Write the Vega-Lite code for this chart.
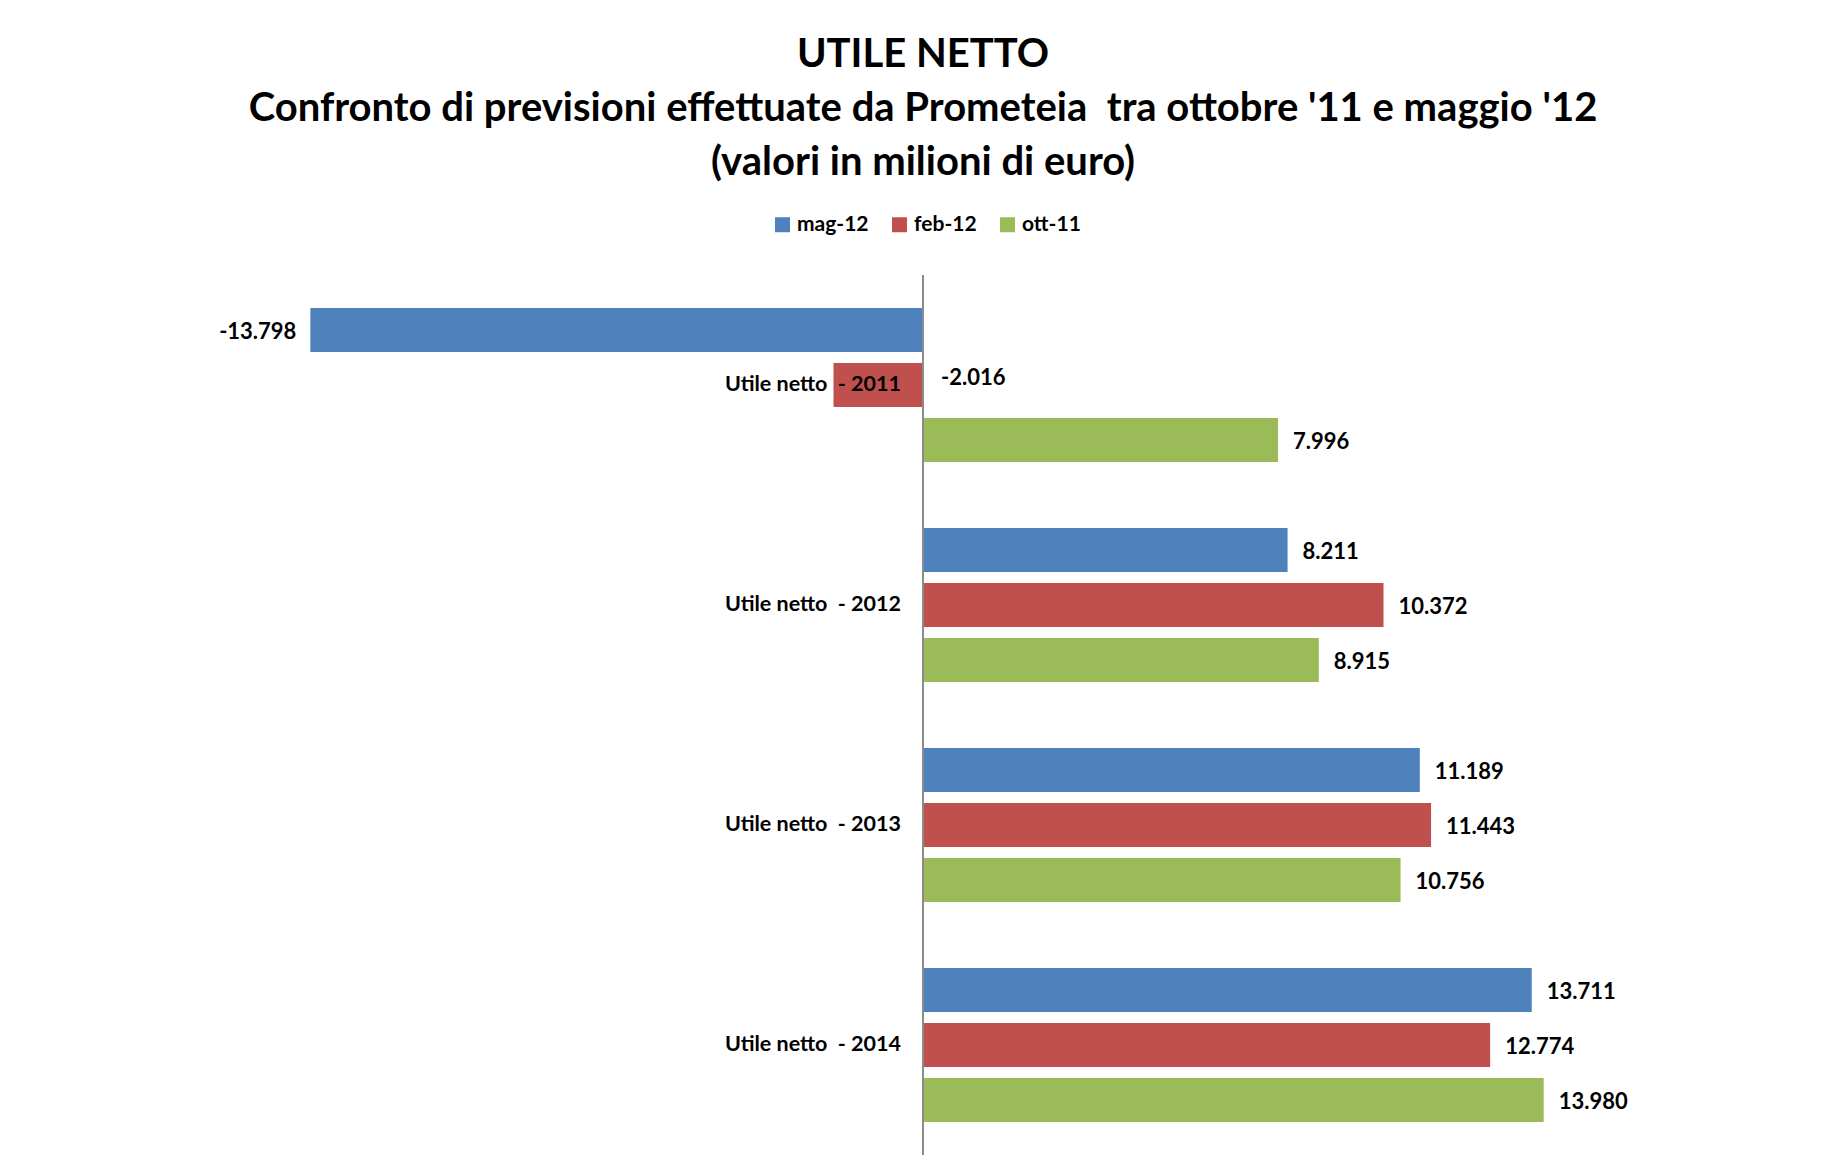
{
  "$schema": "https://vega.github.io/schema/vega-lite/v6.json",
  "autosize": {"type": "none"},
  "width": 1332,
  "height": 880,
  "padding": {"left": 257, "top": 275, "right": 255, "bottom": 21},
  "background": "white",
  "title": {
    "text": ["UTILE NETTO", "Confronto di previsioni effettuate da Prometeia\u00a0 tra ottobre '11 e maggio '12", "(valori in milioni di euro)"],
    "anchor": "middle",
    "frame": "group",
    "font": "Lato",
    "fontWeight": "bold",
    "fontSize": 40,
    "lineHeight": 54,
    "color": "#000000",
    "offset": 31
  },
  "config": {
    "view": {"stroke": null},
    "font": "Lato",
    "locale": {"number": {"decimal": ".", "thousands": ",", "grouping": [3], "currency": ["", ""], "minus": "-"}}
  },
  "data": {
    "values": [
      {"cat": "Utile netto\u00a0 - 2011", "serie": "mag-12", "v": -13.798},
      {"cat": "Utile netto\u00a0 - 2011", "serie": "feb-12", "v": -2.016},
      {"cat": "Utile netto\u00a0 - 2011", "serie": "ott-11", "v": 7.996},
      {"cat": "Utile netto\u00a0 - 2012", "serie": "mag-12", "v": 8.211},
      {"cat": "Utile netto\u00a0 - 2012", "serie": "feb-12", "v": 10.372},
      {"cat": "Utile netto\u00a0 - 2012", "serie": "ott-11", "v": 8.915},
      {"cat": "Utile netto\u00a0 - 2013", "serie": "mag-12", "v": 11.189},
      {"cat": "Utile netto\u00a0 - 2013", "serie": "feb-12", "v": 11.443},
      {"cat": "Utile netto\u00a0 - 2013", "serie": "ott-11", "v": 10.756},
      {"cat": "Utile netto\u00a0 - 2014", "serie": "mag-12", "v": 13.711},
      {"cat": "Utile netto\u00a0 - 2014", "serie": "feb-12", "v": 12.774},
      {"cat": "Utile netto\u00a0 - 2014", "serie": "ott-11", "v": 13.980}
    ]
  },
  "encoding": {
    "y": {
      "field": "cat",
      "type": "nominal",
      "sort": null,
      "scale": {"paddingInner": 0, "paddingOuter": 0},
      "axis": null
    }
  },
  "layer": [
    {
      "mark": {"type": "bar"},
      "encoding": {
        "x": {"field": "v", "type": "quantitative", "scale": {"domain": [-15, 15], "nice": false}, "axis": null},
        "yOffset": {
          "field": "serie",
          "sort": ["mag-12", "feb-12", "ott-11"],
          "scale": {"paddingInner": 0.2, "paddingOuter": 0.6}
        },
        "color": {
          "field": "serie",
          "type": "nominal",
          "scale": {"domain": ["mag-12", "feb-12", "ott-11"], "range": ["#4F81BD", "#C0504D", "#9BBB59"]},
          "legend": {
            "title": null,
            "orient": "none",
            "legendX": 515,
            "legendY": -61,
            "direction": "horizontal",
            "symbolType": "square",
            "symbolSize": 225,
            "symbolStrokeWidth": 0,
            "labelFontSize": 21,
            "labelFontWeight": "bold",
            "labelFont": "Lato",
            "labelColor": "#000000",
            "labelOffset": 4,
            "columnPadding": 20
          }
        }
      }
    },
    {
      "mark": {"type": "rule", "color": "#8c8c8c", "strokeWidth": 1.5},
      "encoding": {"x": {"datum": 0, "type": "quantitative"}, "y": null}
    },
    {
      "transform": [{"filter": "datum.serie == 'feb-12'"}],
      "mark": {"type": "text", "align": "right", "baseline": "middle", "dx": -22, "fontSize": 21.5, "fontWeight": "bold", "color": "#000000"},
      "encoding": {
        "x": {"datum": 0, "type": "quantitative"},
        "text": {"field": "cat"}
      }
    },
    {
      "transform": [{"filter": "datum.v >= 0"}],
      "mark": {"type": "text", "align": "left", "baseline": "middle", "dx": 15, "dy": 2, "fontSize": 22, "fontWeight": "bold", "color": "#000000"},
      "encoding": {
        "x": {"field": "v", "type": "quantitative"},
        "yOffset": {"field": "serie", "sort": ["mag-12", "feb-12", "ott-11"]},
        "text": {"field": "v", "type": "quantitative", "format": ".3f"}
      }
    },
    {
      "transform": [{"filter": "datum.v < -5"}],
      "mark": {"type": "text", "align": "right", "baseline": "middle", "dx": -14, "dy": 2, "fontSize": 22, "fontWeight": "bold", "color": "#000000"},
      "encoding": {
        "x": {"field": "v", "type": "quantitative"},
        "yOffset": {"field": "serie", "sort": ["mag-12", "feb-12", "ott-11"]},
        "text": {"field": "v", "type": "quantitative", "format": ".3f"}
      }
    },
    {
      "transform": [{"filter": "datum.v < 0 && datum.v > -5"}],
      "mark": {"type": "text", "align": "left", "baseline": "middle", "dx": 18, "dy": -7, "fontSize": 22, "fontWeight": "bold", "color": "#000000"},
      "encoding": {
        "x": {"datum": 0, "type": "quantitative"},
        "yOffset": {"field": "serie", "sort": ["mag-12", "feb-12", "ott-11"]},
        "text": {"field": "v", "type": "quantitative", "format": ".3f"}
      }
    }
  ]
}
